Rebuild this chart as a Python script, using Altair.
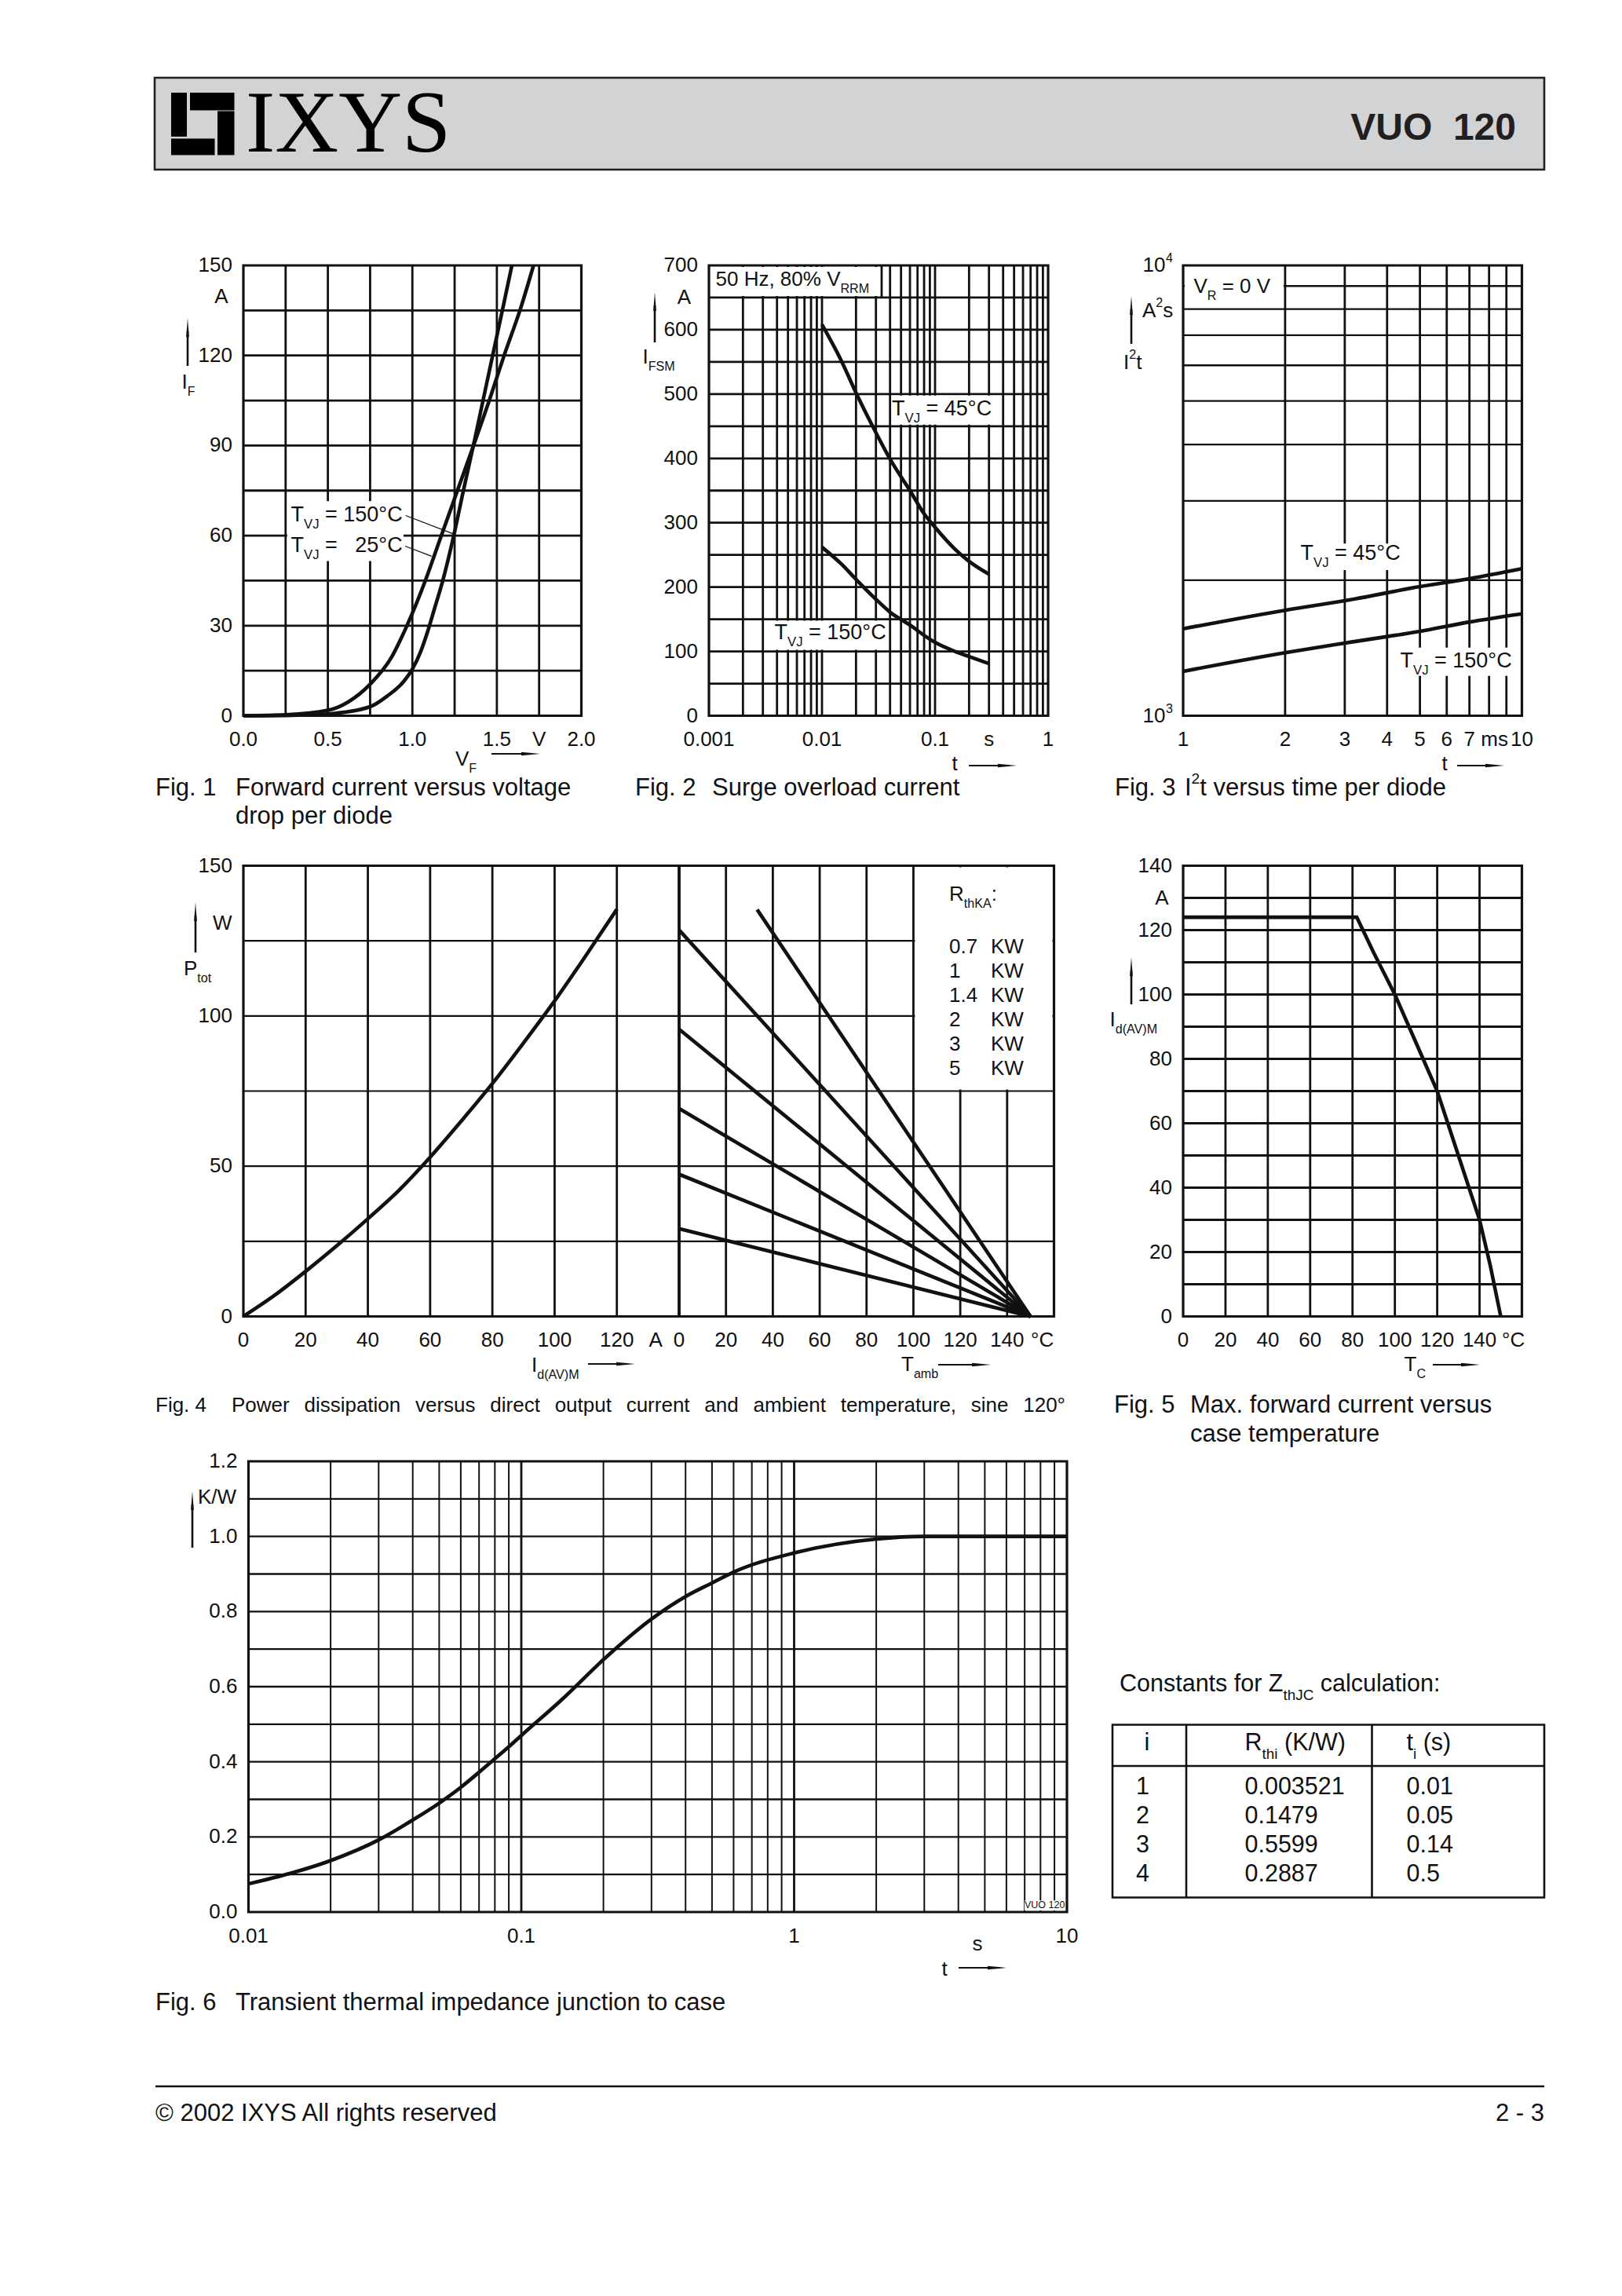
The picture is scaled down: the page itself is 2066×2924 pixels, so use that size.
import altair as alt
import pandas as pd

# ------------------------------------------------------------------ page geometry
CW, CH = 2050, 2908            # chart size (page 2066x2924 minus the 8px margin)
def X(px): return px - 8
def Y(py): return py - 8

FONT = "Liberation Sans"
SERIF = "Liberation Serif"
INK = "#111111"
GRID_W = 2.8
THIN_W = 2.0
FRAME_W = 3.2
CURVE_W = 4.6
TICK_FS = 26
NOTE_FS = 27
CAP_FS = 31

# ------------------------------------------------------------------ data read from the page
# Fig. 1  forward current vs forward voltage
f1_a_v = [0.0, 0.25, 0.5, 0.75, 0.85, 0.95, 1.0, 1.05, 1.09, 1.13, 1.18, 1.245, 1.3, 1.365,
          1.42, 1.477, 1.54, 1.589]
f1_a_i = [0.0, 0.1, 0.6, 3.0, 6.5, 11.5, 15.5, 21.5, 28, 35.5, 45, 60, 74.5, 91,
          105.5, 120.5, 137, 150]
f1_b_v = [0.0, 0.25, 0.5, 0.62, 0.75, 0.877, 0.96, 1.07, 1.165, 1.27, 1.365, 1.455, 1.54, 1.645, 1.717]
f1_b_i = [0.0, 0.3, 1.8, 4.6, 10.5, 19.5, 29, 44, 59, 75.5, 90.5, 105, 119.5, 136.5, 150]
f1_lead_x0 = [0.96, 0.957]
f1_lead_y0 = [66.7, 56.5]
f1_lead_x1 = [1.245, 1.114]
f1_lead_y1 = [60.5, 53.1]
f1_xticks = [0, 0.5, 1.0, 1.5, 1.75, 2.0]
f1_xlabels = ["0.0", "0.5", "1.0", "1.5", "V", "2.0"]
f1_yticks = [0, 30, 60, 90, 120, 150]
f1_ylabels = ["0", "30", "60", "90", "120", "150"]

# Fig. 2  surge overload current
f2_t = [0.01, 0.015, 0.02, 0.03, 0.04, 0.06, 0.08, 0.1, 0.15, 0.2, 0.3]
f2_45 = [608, 550, 502, 440, 399, 350, 314, 293, 259, 240, 220]
f2_150 = [262, 235, 212, 181, 161, 141, 125, 114, 100, 92, 81]
f2_xticks = [0.001, 0.01, 0.1, 0.3, 1]
f2_xlabels = ["0.001", "0.01", "0.1", "s", "1"]
f2_yticks = [0, 100, 200, 300, 400, 500, 600, 700]
f2_ylabels = ["0", "100", "200", "300", "400", "500", "600", "700"]

# Fig. 3  I2t vs time
f3_t = [1, 2, 3, 5, 7, 10]
f3_45 = [1560, 1715, 1800, 1935, 2015, 2120]
f3_150 = [1255, 1380, 1450, 1540, 1615, 1684]
f3_xticks = [1, 2, 3, 4, 5, 6, 7, 8.3, 10]
f3_xlabels = ["1", "2", "3", "4", "5", "6", "7", "ms", "10"]
f3_yticks = [1000, 10000]
f3_ybase = ["10", "10"]
f3_yexp = ["3", "4"]

# Fig. 4  power dissipation
f4_i = [0, 10, 20, 30, 40, 50, 60, 70, 80, 90, 100, 110, 120]
f4_p = [0, 7, 15, 23.5, 32.5, 42, 53, 65, 77.5, 91, 105, 120, 135.5]
f4_rth = ["0.7", "1", "1.4", "2", "3", "5"]
f4_t_start = [33.3, 0, 0, 0, 0, 0]
f4_p_start = [135.4, 128.6, 95.6, 69.2, 47.3, 29.2]
f4_t_end = [150, 150, 150, 150, 150, 150]
f4_p_end = [0, 0, 0, 0, 0, 0]
f4a_xticks = [0, 20, 40, 60, 80, 100, 120, 132.5]
f4a_xlabels = ["0", "20", "40", "60", "80", "100", "120", "A"]
f4b_xticks = [0, 20, 40, 60, 80, 100, 120, 140, 155]
f4b_xlabels = ["0", "20", "40", "60", "80", "100", "120", "140", "°C"]
f4_yticks = [0, 50, 100, 150]
f4_ylabels = ["0", "50", "100", "150"]

# Fig. 5  max forward current vs case temperature
f5_t = [0, 82, 90, 100, 110, 120, 130, 140, 145, 150]
f5_i = [124, 124, 113, 100, 85, 70, 50, 30, 16, 0]
f5_xticks = [0, 20, 40, 60, 80, 100, 120, 140, 156]
f5_xlabels = ["0", "20", "40", "60", "80", "100", "120", "140", "°C"]
f5_yticks = [0, 20, 40, 60, 80, 100, 120, 140]
f5_ylabels = ["0", "20", "40", "60", "80", "100", "120", "140"]

# Fig. 6  transient thermal impedance
f6_t = [0.01, 0.0144, 0.02, 0.03, 0.04, 0.05, 0.06, 0.07, 0.08, 0.09, 0.1, 0.141,
        0.2, 0.3, 0.4, 0.5, 0.6, 1, 2, 3, 10]
f6_z = [0.075, 0.104, 0.137, 0.192, 0.245, 0.29, 0.332, 0.372, 0.408, 0.44, 0.47, 0.566,
        0.672, 0.78, 0.84, 0.876, 0.905, 0.956, 0.993, 1.0, 1.0]
f6_xticks = [0.01, 0.1, 1, 10]
f6_xlabels = ["0.01", "0.1", "1", "10"]
f6_yticks = [0, 0.2, 0.4, 0.6, 0.8, 1.0, 1.2]
f6_ylabels = ["0.0", "0.2", "0.4", "0.6", "0.8", "1.0", "1.2"]

# table of Zth constants
tab_i = [1, 2, 3, 4]
tab_r = ["0.003521", "0.1479", "0.5599", "0.2887"]
tab_tau = ["0.01", "0.05", "0.14", "0.5"]

# ------------------------------------------------------------------ helpers
HW = {' ': 278, '\u00a0': 278, '!': 278, '(': 333, ')': 333, ',': 278, '-': 333, '.': 278,
      '/': 278, ':': 278, '=': 584, '%': 889, '°': 400, '©': 737}
for c in '0123456789':
    HW[c] = 556
HW.update(dict(A=667, B=667, C=722, D=722, E=667, F=611, G=778, H=722, I=278, J=500, K=667,
               L=556, M=833, N=722, O=778, P=667, Q=778, R=722, S=667, T=611, U=722, V=667,
               W=944, X=667, Y=667, Z=611))
HW.update(dict(a=556, b=556, c=500, d=556, e=556, f=278, g=556, h=556, i=222, j=222, k=500,
               l=222, m=833, n=556, o=556, p=556, q=556, r=333, s=500, t=278, u=556, v=500,
               w=722, x=500, y=500, z=500))


def tw(s, size):
    return sum(HW.get(c, 556) for c in s) / 1000.0 * size


def one():
    return pd.DataFrame({'k': [0]})


def text(s, x, y, size, align='left', weight='normal', font=FONT, baseline='middle', color=INK):
    df = pd.DataFrame({'t': [s]})
    return alt.Chart(df).mark_text(align=align, baseline=baseline, font=font, fontSize=size,
                                   fontWeight=weight, color=color).encode(
        x=alt.value(X(x)), y=alt.value(Y(y)), text='t:N')


def rich(parts, x, y, size=NOTE_FS, align='left', font=FONT):
    specs = []
    for t, k in parts:
        fs = size if k == 'n' else round(size * 0.62, 2)
        specs.append((t, k, fs, tw(t, fs)))
    total = sum(s[3] for s in specs)
    if align == 'right':
        cx = x - total
    elif align == 'center':
        cx = x - total / 2
    else:
        cx = x
    out = []
    for t, k, fs, w in specs:
        dy = 0 if k == 'n' else (0.45 * size if k == 'sub' else -0.38 * size)
        body = t.lstrip(' ')
        lead = tw(t[:len(t) - len(body)], fs)
        out.append(text(body.replace(' ', '\u00a0'), cx + lead, y + dy, fs, font=font))
        cx += w
    return out


HEAD_R = "M-1,-0.19L1,0L-1,0.19Z"
HEAD_U = "M-0.15,1L0,-1L0.15,1Z"


def harrow(x1, x2, y, head=24):
    shaft = alt.Chart(one()).mark_rule(color=INK, strokeWidth=2.2).encode(
        x=alt.value(X(x1)), x2=alt.value(X(x2 - head * 0.7)), y=alt.value(Y(y)))
    hd = alt.Chart(one()).mark_point(shape=HEAD_R, filled=True, color=INK, size=head * head,
                                     opacity=1, strokeWidth=0).encode(
        x=alt.value(X(x2 - head / 2)), y=alt.value(Y(y)))
    return [shaft, hd]


def uarrow(x, y_bottom, y_tip, head=24):
    shaft = alt.Chart(one()).mark_rule(color=INK, strokeWidth=2.6).encode(
        x=alt.value(X(x)), y=alt.value(Y(y_tip + head * 0.7)), y2=alt.value(Y(y_bottom)))
    hd = alt.Chart(one()).mark_point(shape=HEAD_U, filled=True, color=INK, size=head * head,
                                     opacity=1, strokeWidth=0).encode(
        x=alt.value(X(x)), y=alt.value(Y(y_tip + head / 2)))
    return [shaft, hd]


def prect(x0, y0, x1, y1, fill, stroke='', sw=0):
    kw = dict(fill=fill)
    if stroke:
        kw.update(stroke=stroke, strokeWidth=sw)
    return alt.Chart(one()).mark_rect(**kw).encode(
        x=alt.value(X(x0)), x2=alt.value(X(x1)), y=alt.value(Y(y0)), y2=alt.value(Y(y1)))


def prule(x0, y0, x1, y1, w):
    return alt.Chart(one()).mark_rule(color=INK, strokeWidth=w).encode(
        x=alt.value(X(x0)), x2=alt.value(X(x1)), y=alt.value(Y(y0)), y2=alt.value(Y(y1)))


def vrules(xs, ylo, yhi, sx, sy, w=GRID_W):
    df = pd.DataFrame({'x': xs, 'y0': [ylo] * len(xs), 'y1': [yhi] * len(xs)})
    return alt.Chart(df).mark_rule(color=INK, strokeWidth=w).encode(
        x=alt.X('x:Q', scale=sx, axis=None),
        y=alt.Y('y0:Q', scale=sy, axis=None), y2='y1:Q')


def hrules(ys, xlo, xhi, sx, sy, w=GRID_W):
    df = pd.DataFrame({'y': ys, 'x0': [xlo] * len(ys), 'x1': [xhi] * len(ys)})
    return alt.Chart(df).mark_rule(color=INK, strokeWidth=w).encode(
        y=alt.Y('y:Q', scale=sy, axis=None),
        x=alt.X('x0:Q', scale=sx, axis=None), x2='x1:Q')


def wbox(x0, x1, y0, y1, sx, sy, inset=2.0):
    df = pd.DataFrame({'x0': [x0], 'x1': [x1], 'y0': [y0], 'y1': [y1]})
    return alt.Chart(df).mark_rect(color='white', xOffset=inset, x2Offset=-inset,
                                   yOffset=-inset, y2Offset=inset).encode(
        x=alt.X('x0:Q', scale=sx, axis=None), x2='x1:Q',
        y=alt.Y('y0:Q', scale=sy, axis=None), y2='y1:Q')


def frame(x0, x1, y0, y1, sx, sy):
    df = pd.DataFrame({'x0': [x0], 'x1': [x1], 'y0': [y0], 'y1': [y1]})
    return alt.Chart(df).mark_rect(filled=False, stroke=INK, strokeWidth=FRAME_W).encode(
        x=alt.X('x0:Q', scale=sx, axis=None), x2='x1:Q',
        y=alt.Y('y0:Q', scale=sy, axis=None), y2='y1:Q')


def line(xs, ys, sx, sy, interp='monotone', w=CURVE_W):
    df = pd.DataFrame({'x': xs, 'y': ys})
    return alt.Chart(df).mark_line(color=INK, strokeWidth=w, interpolate=interp).encode(
        x=alt.X('x:Q', scale=sx, axis=None), y=alt.Y('y:Q', scale=sy, axis=None))


def segs(xa, ya, xb, yb, sx, sy, w):
    df = pd.DataFrame({'xa': xa, 'ya': ya, 'xb': xb, 'yb': yb})
    return alt.Chart(df).mark_rule(color=INK, strokeWidth=w).encode(
        x=alt.X('xa:Q', scale=sx, axis=None), y=alt.Y('ya:Q', scale=sy, axis=None),
        x2='xb:Q', y2='yb:Q')


def xlabels(vals, labs, sx, y_px, size=TICK_FS):
    df = pd.DataFrame({'v': vals, 'lab': labs})
    return alt.Chart(df).mark_text(align='center', baseline='middle', font=FONT,
                                   fontSize=size, color=INK).encode(
        x=alt.X('v:Q', scale=sx, axis=None), y=alt.value(Y(y_px)), text='lab:N')


def ylabels(vals, labs, sy, x_px, size=TICK_FS, align='right', dy=0):
    df = pd.DataFrame({'v': vals, 'lab': labs})
    return alt.Chart(df).mark_text(align=align, baseline='middle', font=FONT,
                                   fontSize=size, color=INK, dy=dy).encode(
        y=alt.Y('v:Q', scale=sy, axis=None), x=alt.value(X(x_px)), text='lab:N')


def lin(dom, r0, r1):
    return alt.Scale(domain=dom, range=[r0, r1], nice=False, zero=False)


def logs(dom, r0, r1):
    return alt.Scale(type='log', domain=dom, range=[r0, r1], nice=False)


layers = []

# ------------------------------------------------------------------ header
layers.append(prect(197, 99, 1967, 216, '#d1d3d4', '#231f20', 2.6))
for (a, b, c, d) in [(218, 118, 238, 174), (242, 118, 298.5, 140.4),
                     (277, 141.4, 298.5, 197.4), (218, 176.6, 273.5, 197.4)]:
    layers.append(prect(a, b, c, d, '#000000'))
layers.append(text('IXYS', 313, 192.5, 112, font=SERIF, baseline='alphabetic', color='#000000'))
layers.append(text('VUO\u00a0\u00a0120', 1931, 177.5, 48, align='right', weight='bold',
                   baseline='alphabetic', color='#231f20'))

# ------------------------------------------------------------------ Fig. 1
s1x = lin([0, 2], X(310), X(740.5))
s1y = lin([0, 150], Y(911.5), Y(338))
fig1 = alt.layer(
    vrules([0.25, 0.5, 0.75, 1.0, 1.25, 1.5, 1.75], 0, 150, s1x, s1y),
    hrules(list(range(15, 150, 15)), 0, 2, s1x, s1y),
    wbox(0.25, 0.957, 51, 72, s1x, s1y),
    frame(0, 2, 0, 150, s1x, s1y),
    line(f1_a_v, f1_a_i, s1x, s1y),
    line(f1_b_v, f1_b_i, s1x, s1y),
    segs(f1_lead_x0, f1_lead_y0, f1_lead_x1, f1_lead_y1, s1x, s1y, 1.3),
    xlabels(f1_xticks, f1_xlabels, s1x, 942),
    ylabels(f1_yticks, f1_ylabels, s1y, 296),
)
layers.append(fig1)
layers.append(text('A', 282, 378, TICK_FS, align='center'))
layers += uarrow(239, 466, 405)
layers += rich([('I', 'n'), ('F', 'sub')], 231.5, 487, TICK_FS)
layers += rich([('V', 'n'), ('F', 'sub')], 580, 967, TICK_FS)
layers += harrow(626, 688, 960)
layers += rich([('T', 'n'), ('VJ', 'sub'), (' = 150°C', 'n')], 370.5, 656)
end1 = 370.5 + tw('T', NOTE_FS) + tw('VJ', NOTE_FS * 0.62) + tw(' = 150°C', NOTE_FS)
layers += rich([('T', 'n'), ('VJ', 'sub'), (' =', 'n')], 370.5, 695)
layers.append(text('25°C', end1, 695, NOTE_FS, align='right'))
layers.append(text('Fig. 1', 198, 1004, CAP_FS))
layers.append(text('Forward current versus voltage', 300, 1004, CAP_FS))
layers.append(text('drop per diode', 300, 1040, CAP_FS))

# ------------------------------------------------------------------ Fig. 2
s2x = logs([0.001, 1], X(903), X(1335))
s2y = lin([0, 700], Y(911.5), Y(338))
f2_minor = [k * d for d in (0.001, 0.01, 0.1) for k in range(2, 10)] + [0.01, 0.1]
fig2 = alt.layer(
    vrules(f2_minor, 0, 700, s2x, s2y),
    hrules(list(range(50, 700, 50)), 0.001, 1, s2x, s2y),
    wbox(0.001, 0.0337, 650, 700, s2x, s2y),
    wbox(0.04, 0.383, 450, 500, s2x, s2y),
    wbox(0.0034, 0.04, 100, 150, s2x, s2y),
    vrules([0.0337], 650, 700, s2x, s2y),
    frame(0.001, 1, 0, 700, s2x, s2y),
    line(f2_t, f2_45, s2x, s2y),
    line(f2_t, f2_150, s2x, s2y),
    xlabels(f2_xticks, f2_xlabels, s2x, 942),
    ylabels(f2_yticks, f2_ylabels, s2y, 889),
)
layers.append(fig2)
layers.append(text('A', 871.5, 379, TICK_FS, align='center'))
layers += uarrow(834, 436, 372)
layers += rich([('I', 'n'), ('FSM', 'sub')], 818.5, 455, TICK_FS)
layers.append(text('t', 1216, 973, TICK_FS, align='center'))
layers += harrow(1234, 1295, 975)
layers += rich([('50 Hz, 80% V', 'n'), ('RRM', 'sub')], 911.5, 356, 26)
layers += rich([('T', 'n'), ('VJ', 'sub'), (' = 45°C', 'n')], 1136, 521)
layers += rich([('T', 'n'), ('VJ', 'sub'), (' = 150°C', 'n')], 986.5, 806)
layers.append(text('Fig. 2', 809, 1004, CAP_FS))
layers.append(text('Surge overload current', 907, 1004, CAP_FS))

# ------------------------------------------------------------------ Fig. 3
s3x = logs([1, 10], X(1507), X(1938.5))
s3y = logs([1000, 10000], Y(911.5), Y(338))
fig3 = alt.layer(
    vrules([2, 3, 4, 5, 6, 7, 8, 9], 1000, 10000, s3x, s3y),
    hrules([2000, 3000, 4000, 5000, 6000, 7000, 8000, 9000], 1, 10, s3x, s3y, 2.3),
    wbox(1, 2, 8000, 10000, s3x, s3y),
    wbox(2.2, 4.45, 2090, 2430, s3x, s3y),
    wbox(4.29, 9.44, 1216, 1428, s3x, s3y),
    frame(1, 10, 1000, 10000, s3x, s3y),
    line(f3_t, f3_45, s3x, s3y),
    line(f3_t, f3_150, s3x, s3y),
    xlabels(f3_xticks, f3_xlabels, s3x, 942),
    ylabels(f3_yticks, f3_ybase, s3y, 1484.5),
    ylabels(f3_yticks, f3_yexp, s3y, 1485, size=16, align='left', dy=-9),
)
layers.append(fig3)
layers += rich([('A', 'n'), ('2', 'sup'), ('s', 'n')], 1455, 395.5, TICK_FS)
layers += uarrow(1441, 438, 377)
layers += rich([('I', 'n'), ('2', 'sup'), ('t', 'n')], 1431, 462, TICK_FS)
layers.append(text('t', 1840, 973, TICK_FS, align='center'))
layers += harrow(1856, 1916, 975)
layers += rich([('V', 'n'), ('R', 'sub'), (' = 0 V', 'n')], 1520.5, 365, 26)
layers += rich([('T', 'n'), ('VJ', 'sub'), (' = 45°C', 'n')], 1656.5, 704.5)
layers += rich([('T', 'n'), ('VJ', 'sub'), (' = 150°C', 'n')], 1783.5, 841.5)
layers.append(text('Fig. 3', 1420, 1004, CAP_FS))
layers += rich([('I', 'n'), ('2', 'sup'), ('t versus time per diode', 'n')], 1509, 1004, CAP_FS)

# ------------------------------------------------------------------ Fig. 4
s4ax = lin([0, 140], X(310), X(865))
s4bx = lin([0, 160], X(865), X(1342.5))
s4y = lin([0, 150], Y(1676.5), Y(1102.5))
fig4a = alt.layer(
    vrules([20, 40, 60, 80, 100, 120], 0, 150, s4ax, s4y),
    hrules([25, 50, 75, 100, 125], 0, 140, s4ax, s4y, 2.2),
    vrules([140], 0, 150, s4ax, s4y, FRAME_W),
    frame(0, 140, 0, 150, s4ax, s4y),
    line(f4_i, f4_p, s4ax, s4y),
    xlabels(f4a_xticks, f4a_xlabels, s4ax, 1706.5),
    ylabels(f4_yticks, f4_ylabels, s4y, 296),
)
f4_lines = pd.DataFrame({
    'r': f4_rth + f4_rth,
    'x': f4_t_start + f4_t_end,
    'y': f4_p_start + f4_p_end,
})
fig4b = alt.layer(
    vrules([20, 40, 60, 80, 100, 120, 140], 0, 150, s4bx, s4y),
    hrules([25, 50, 75, 100, 125], 0, 160, s4bx, s4y, 2.2),
    wbox(100, 160, 75, 150, s4bx, s4y),
    frame(0, 160, 0, 150, s4bx, s4y),
    alt.Chart(f4_lines).mark_line(color=INK, strokeWidth=CURVE_W).encode(
        x=alt.X('x:Q', scale=s4bx, axis=None), y=alt.Y('y:Q', scale=s4y, axis=None),
        detail='r:N'),
    xlabels(f4b_xticks, f4b_xlabels, s4bx, 1706.5),
)
layers.append(fig4a)
layers.append(fig4b)
layers.append(text('W', 271, 1176, TICK_FS))
layers += uarrow(249, 1213, 1149)
layers += rich([('P', 'n'), ('tot', 'sub')], 234, 1234, TICK_FS)
layers += rich([('I', 'n'), ('d(AV)M', 'sub')], 677, 1739, TICK_FS)
layers += harrow(749, 809, 1737)
layers += rich([('T', 'n'), ('amb', 'sub')], 1148, 1738, TICK_FS)
layers += harrow(1195, 1262, 1738)
layers += rich([('R', 'n'), ('thKA', 'sub'), (':', 'n')], 1209, 1139, TICK_FS)
for lab, yy in zip(f4_rth, [1206, 1237, 1268, 1299, 1330, 1361]):
    layers.append(text(lab, 1209, yy, TICK_FS))
    layers.append(text('KW', 1262, yy, TICK_FS))
layers.append(text('Fig. 4', 198, 1790, 26))
cap4 = ["Power", "dissipation", "versus", "direct", "output", "current", "and", "ambient",
        "temperature,", "sine", "120°"]
ws = [tw(w, 26) for w in cap4]
gap = (1357 - 295 - sum(ws)) / (len(cap4) - 1)
cx = 295
for w, wd in zip(cap4, ws):
    layers.append(text(w, cx, 1790, 26))
    cx += wd + gap

# ------------------------------------------------------------------ Fig. 5
s5x = lin([0, 160], X(1507), X(1938.5))
s5y = lin([0, 140], Y(1676.5), Y(1102.5))
fig5 = alt.layer(
    vrules([20, 40, 60, 80, 100, 120, 140], 0, 140, s5x, s5y),
    hrules(list(range(10, 140, 10)), 0, 160, s5x, s5y),
    frame(0, 160, 0, 140, s5x, s5y),
    line(f5_t, f5_i, s5x, s5y, interp='linear'),
    xlabels(f5_xticks, f5_xlabels, s5x, 1706.5),
    ylabels(f5_yticks, f5_ylabels, s5y, 1493),
)
layers.append(fig5)
layers.append(text('A', 1480, 1144, TICK_FS, align='center'))
layers += uarrow(1441, 1279, 1219)
layers += rich([('I', 'n'), ('d(AV)M', 'sub')], 1413.5, 1299, TICK_FS)
layers += rich([('T', 'n'), ('C', 'sub')], 1788.5, 1738, TICK_FS)
layers += harrow(1825, 1885, 1738)
layers.append(text('Fig. 5', 1419, 1790, CAP_FS))
layers.append(text('Max. forward current versus', 1516, 1790, CAP_FS))
layers.append(text('case temperature', 1516, 1827, CAP_FS))

# ------------------------------------------------------------------ Fig. 6
s6x = logs([0.01, 10], X(316.5), X(1359))
s6y = lin([0, 1.2], Y(2435), Y(1861))
f6_minor = [k * d for d in (0.01, 0.1, 1) for k in range(2, 10)]
fig6 = alt.layer(
    vrules(f6_minor, 0, 1.2, s6x, s6y, THIN_W),
    vrules([0.1, 1], 0, 1.2, s6x, s6y),
    hrules([0.1, 0.2, 0.3, 0.4, 0.5, 0.6, 0.7, 0.8, 0.9, 1.0, 1.1], 0.01, 10, s6x, s6y, 2.4),
    wbox(6.9, 10, 0, 0.035, s6x, s6y),
    frame(0.01, 10, 0, 1.2, s6x, s6y),
    line(f6_t, f6_z, s6x, s6y),
    xlabels(f6_xticks, f6_xlabels, s6x, 2466),
    ylabels(f6_yticks, f6_ylabels, s6y, 302.5),
)
layers.append(fig6)
layers.append(text('K/W', 252, 1907, TICK_FS))
layers += uarrow(245, 1971, 1899)
layers.append(text('s', 1245, 2476, TICK_FS, align='center'))
layers.append(text('t', 1203, 2508, TICK_FS, align='center'))
layers += harrow(1221, 1282, 2506)
layers.append(text('VUO 120', 1305, 2426, 12.5))
layers.append(text('Fig. 6', 198, 2551, CAP_FS))
layers.append(text('Transient thermal impedance junction to case', 300, 2551, CAP_FS))

# ------------------------------------------------------------------ constants table
layers += rich([('Constants for Z', 'n'), ('thJC', 'sub'), (' calculation:', 'n')], 1426, 2145, 30.5)
layers.append(prect(1417, 2196.5, 1967, 2416.5, 'white', INK, 2.6))
layers.append(prule(1417, 2249, 1967, 2249, 2.6))
layers.append(prule(1511, 2196.5, 1511, 2416.5, 2.6))
layers.append(prule(1747.5, 2196.5, 1747.5, 2416.5, 2.6))
layers.append(text('i', 1461, 2220, 30.5, align='center'))
layers += rich([('R', 'n'), ('thi', 'sub'), (' (K/W)', 'n')], 1585.5, 2220, 30.5)
layers += rich([('t', 'n'), ('i', 'sub'), (' (s)', 'n')], 1791.5, 2220, 30.5)
stab = lin([1, 4], Y(2276), Y(2387))
tab_df = pd.DataFrame({'i': tab_i, 'r': tab_r, 'tau': tab_tau})
tab_layers = []
for col, xpx in [('i', 1447), ('r', 1585.5), ('tau', 1791.5)]:
    tab_layers.append(alt.Chart(tab_df).mark_text(
        align='left', baseline='middle', font=FONT, fontSize=30.5, color=INK).encode(
        x=alt.value(X(xpx)), y=alt.Y('i:Q', scale=stab, axis=None), text=f'{col}:N'))
layers.append(alt.layer(*tab_layers))

# ------------------------------------------------------------------ footer
layers.append(prule(198, 2657, 1967, 2657, 2.6))
layers.append(text('© 2002 IXYS All rights reserved', 198, 2692, CAP_FS))
layers.append(text('2 - 3', 1967, 2692, CAP_FS, align='right'))

chart = alt.layer(*layers).resolve_scale(x='independent', y='independent').properties(
    width=CW, height=CH, autosize=alt.AutoSizeParams(type='none'), padding=0,
    background='white'
).configure_view(strokeWidth=0)

chart.save("out.html", embed_options={"renderer": "svg", "actions": False})
